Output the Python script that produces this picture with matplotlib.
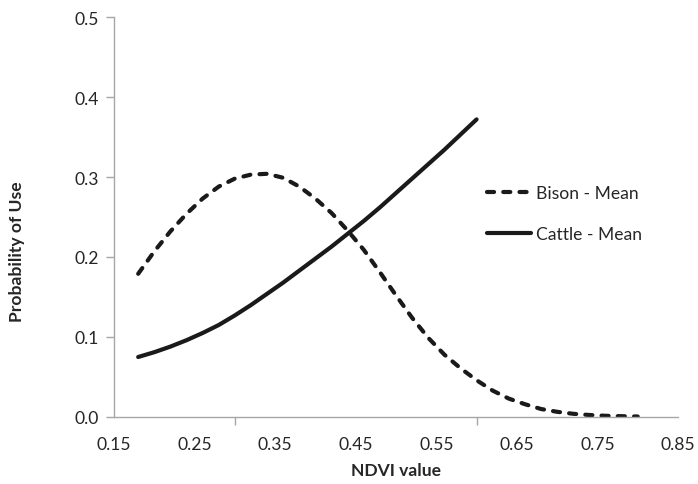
import matplotlib
matplotlib.use("Agg")
import matplotlib.pyplot as plt
from matplotlib.ticker import FixedLocator

plt.rcParams['font.family'] = ['Lato', 'DejaVu Sans']

bison_x = [0.18, 0.20, 0.22, 0.24, 0.26, 0.28, 0.30, 0.32, 0.34, 0.36, 0.38,
           0.40, 0.42, 0.44, 0.46, 0.48, 0.50, 0.52, 0.54, 0.56, 0.58, 0.60,
           0.62, 0.64, 0.66, 0.68, 0.70, 0.72, 0.74, 0.76, 0.78, 0.80]
bison_y = [0.179, 0.207, 0.232, 0.254, 0.273, 0.288, 0.298, 0.303, 0.304, 0.299, 0.288,
           0.273, 0.255, 0.233, 0.209, 0.181, 0.152, 0.124, 0.099, 0.078, 0.061, 0.046,
           0.033, 0.023, 0.016, 0.010, 0.0065, 0.004, 0.0025, 0.0015, 0.001, 0.0006]

cattle_x = [0.18, 0.20, 0.22, 0.24, 0.26, 0.28, 0.30, 0.32, 0.34, 0.36, 0.38,
            0.40, 0.42, 0.44, 0.46, 0.48, 0.50, 0.52, 0.54, 0.56, 0.58, 0.60]
cattle_y = [0.075, 0.081, 0.088, 0.096, 0.105, 0.115, 0.127, 0.140, 0.154, 0.168, 0.183,
            0.198, 0.213, 0.229, 0.245, 0.262, 0.280, 0.298, 0.316, 0.334, 0.353, 0.372]

x_labels = [0.15, 0.25, 0.35, 0.45, 0.55, 0.65, 0.75, 0.85]
x_tickmarks = [0.15, 0.30, 0.45, 0.60, 0.75]
y_ticks = [0.0, 0.1, 0.2, 0.3, 0.4, 0.5]

text_col = '#262626'
axis_col = '#a6a6a6'
line_col = '#1a1a1a'
fs = 12.6

fig = plt.figure(figsize=(6.98, 4.85), dpi=100)
ax = fig.add_axes([114/698, 1 - 418/485, (678 - 114)/698, (418 - 18)/485])

ax.plot(bison_x, bison_y, color=line_col, lw=3, linestyle=(0, (1.7, 2.2)),
        dash_capstyle='round', label='Bison - Mean')
ax.plot(cattle_x, cattle_y, color=line_col, lw=3, solid_capstyle='round',
        label='Cattle - Mean')

ax.set_xlim(0.15, 0.85)
ax.set_ylim(0.0, 0.5)

ax.xaxis.set_major_locator(FixedLocator(x_labels))
ax.set_xticklabels(['%.2f' % v for v in x_labels])
ax.xaxis.set_minor_locator(FixedLocator(x_tickmarks))
ax.tick_params(axis='x', which='major', length=0, pad=14, labelsize=fs, labelcolor=text_col)
ax.tick_params(axis='x', which='minor', length=6, width=1, color=axis_col, direction='out')

ax.set_yticks(y_ticks)
ax.set_yticklabels(['%.1f' % v for v in y_ticks])
ax.tick_params(axis='y', which='major', length=6, width=1, color=axis_col,
               direction='out', pad=5, labelsize=fs, labelcolor=text_col)

for s in ['top', 'right']:
    ax.spines[s].set_visible(False)
for s in ['left', 'bottom']:
    ax.spines[s].set_color(axis_col)
    ax.spines[s].set_linewidth(1)

ax.set_xlabel('NDVI value', fontsize=fs, fontweight='bold', color=text_col)
ax.xaxis.set_label_coords(0.5, (418 - 463) / 400)
ax.set_ylabel('Probability of Use', fontsize=fs, fontweight='bold', color=text_col)
ax.yaxis.set_label_coords((25 - 114) / 564, (418 - 252) / 400)

leg = ax.legend(loc='upper left', bbox_to_anchor=(487/698, 1 - 186/485),
                bbox_transform=fig.transFigure, frameon=False, fontsize=fs,
                handlelength=2.5, handletextpad=0.3, labelspacing=1.45,
                borderpad=0, borderaxespad=0)
for t in leg.get_texts():
    t.set_color(text_col)

fig.savefig('out.png', dpi=100)
